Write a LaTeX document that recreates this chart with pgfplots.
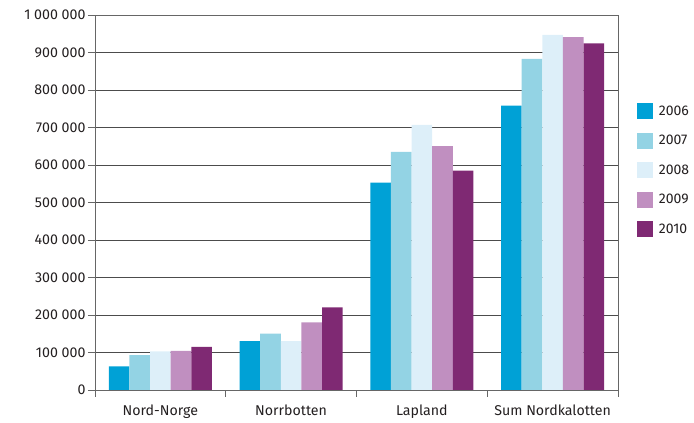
\documentclass[border=0pt]{standalone}
\usepackage{fontspec}
\setmainfont{Fira Sans}
\usepackage{pgfplots}
\pgfplotsset{compat=1.18}
\definecolor{c06}{RGB}{0,161,214}
\definecolor{c07}{RGB}{147,211,228}
\definecolor{c08}{RGB}{221,239,249}
\definecolor{c09}{RGB}{192,143,192}
\definecolor{c10}{RGB}{127,41,115}
\definecolor{txt}{RGB}{35,31,32}
\begin{document}
\begin{tikzpicture}
\begin{axis}[
  scale only axis,
  width=523bp, height=375bp,
  at={(0,0)}, anchor=south west,
  ybar=0pt, bar width=20.6bp,
  xmin=-0.5, xmax=3.5,
  ymin=0, ymax=1000000,
  xtick={-0.5,0.5,1.5,2.5,3.5},
  xticklabels={},
  extra x ticks={0,1,2,3},
  extra x tick labels={Nord-Norge,Norrbotten,Lapland,Sum Nordkalotten},
  extra x tick style={major tick length=0pt, grid=none},
  xtick pos=bottom, ytick pos=left,
  ytick={0,100000,...,1000000},
  yticklabels={0,100 000,200 000,300 000,400 000,500 000,600 000,700 000,800 000,900 000,1 000 000},
  scaled y ticks=false,
  tick align=outside,
  major tick length=7bp,
  tick style={black!60, line width=0.8pt},
  ymajorgrids, major grid style={black!70, line width=0.7pt},
  axis line style={black!60, line width=0.8pt},
  tick label style={font=\fontsize{14.2bp}{16bp}\selectfont, text=txt},
  yticklabel style={xshift=1bp},
  xticklabel style={yshift=-11bp},
  /pgf/number format/assume math mode=true,
  legend style={at={(1.03,0.77)}, anchor=north west, draw=none, fill=none,
    font=\fontsize{14bp}{16bp}\selectfont, text=txt, row sep=13.5bp,
    legend cell align=left,
    /tikz/every odd column/.append style={column sep=4bp}},
  legend image code/.code={\fill[#1, draw=none] (0bp,-8bp) rectangle (16bp,8bp);},
]
\addplot[fill=c06, draw=none] coordinates {(0,63000) (1,130000) (2,553000) (3,758000)};
\addplot[fill=c07, draw=none] coordinates {(0,93000) (1,150000) (2,635000) (3,883000)};
\addplot[fill=c08, draw=none] coordinates {(0,103000) (1,130000) (2,707000) (3,947000)};
\addplot[fill=c09, draw=none] coordinates {(0,104000) (1,180000) (2,650000) (3,941000)};
\addplot[fill=c10, draw=none] coordinates {(0,115000) (1,220000) (2,585000) (3,924000)};
\legend{2006,2007,2008,2009,2010}
\end{axis}
\pgfresetboundingbox
\path (-95bp,-33bp) rectangle (599bp,390bp);
\end{tikzpicture}
\end{document}
